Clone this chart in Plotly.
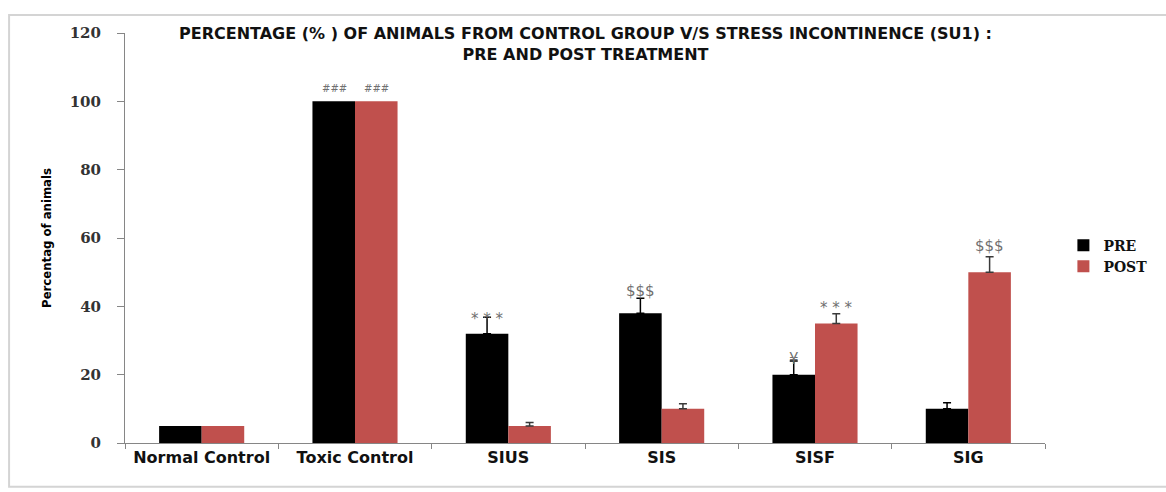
import plotly.graph_objects as go

categories = ["Normal Control", "Toxic Control", "SIUS", "SIS", "SISF", "SIG"]
pre_values = [5, 100, 32, 38, 20, 10]
post_values = [5, 100, 5, 10, 35, 50]
pre_errors = [0, 0, 4.8, 4.4, 4, 1.8]
post_errors = [0, 0, 1, 1.5, 2.8, 4.5]

ann_categories = ["Toxic Control", "Toxic Control", "SIUS", "SIS", "SISF", "SISF", "SIG"]
ann_series = ["PRE", "POST", "PRE", "PRE", "PRE", "POST", "POST"]
ann_texts = ["###", "###", "* * *", "$$$", "¥", "* * *", "$$$"]
ann_yshift = [13, 13, -2, 7, 2, 6, 11]
ann_size = [10, 10, 15, 15, 15, 15, 15]

title_lines = ["PERCENTAGE (% ) OF ANIMALS FROM CONTROL GROUP V/S STRESS INCONTINENCE (SU1) :",
               "PRE AND POST TREATMENT"]
y_title = "Percentag of animals"
y_ticks = [0, 20, 40, 60, 80, 100, 120]

PRE_COLOR = "#000000"
POST_COLOR = "#C0504D"

fig = go.Figure()


def add_series(name, values, errors, color, err_color):
    # bars with an error bar, and bars without one (zero error), in the same slot
    with_err = [i for i, e in enumerate(errors) if e > 0]
    no_err = [i for i, e in enumerate(errors) if e <= 0]
    fig.add_trace(go.Bar(
        name=name, x=[categories[i] for i in no_err], y=[values[i] for i in no_err],
        marker_color=color, marker_line_width=0, offsetgroup=name, legendgroup=name,
        showlegend=True,
    ))
    fig.add_trace(go.Bar(
        name=name, x=[categories[i] for i in with_err], y=[values[i] for i in with_err],
        marker_color=color, marker_line_width=0, offsetgroup=name, legendgroup=name,
        showlegend=False,
        error_y=dict(type="data", array=[errors[i] for i in with_err],
                     arrayminus=[0] * len(with_err), symmetric=False,
                     color=err_color, thickness=1.5, width=4),
    ))


add_series("PRE", pre_values, pre_errors, PRE_COLOR, "#000000")
add_series("POST", post_values, post_errors, POST_COLOR, "#3a3a3a")

lookup = {"PRE": (pre_values, pre_errors), "POST": (post_values, post_errors)}
for cat, ser, txt, ys, sz in zip(ann_categories, ann_series, ann_texts, ann_yshift, ann_size):
    vals, errs = lookup[ser]
    i = categories.index(cat)
    fig.add_annotation(
        x=cat, y=vals[i] + errs[i], xref="x", yref="y",
        text=txt, showarrow=False, yanchor="middle",
        xshift=-21 if ser == "PRE" else 21, yshift=ys,
        font=dict(family="DejaVu Sans, sans-serif", size=sz, color="#707070"),
    )

fig.add_annotation(
    x=0.5, y=1.0, xref="paper", yref="paper", xanchor="center", yanchor="top",
    text="<br>".join(title_lines), showarrow=False, yshift=11,
    font=dict(family="DejaVu Sans, sans-serif", size=16, color="#111111", weight="bold"),
    align="center",
)

# outer chart-area border
fig.add_shape(type="rect", xref="paper", yref="paper",
              x0=-0.126, x1=1.14, y0=-0.107, y1=1.044,
              line=dict(color="#d4d4d4", width=2), fillcolor="rgba(0,0,0,0)", layer="below")

fig.update_layout(
    width=1166, height=492,
    margin=dict(l=125, r=121, t=33, b=49),
    paper_bgcolor="white", plot_bgcolor="white",
    barmode="group", bargap=0.445, bargroupgap=0,
    showlegend=True,
    legend=dict(x=1.02, y=0.456, xanchor="left", yanchor="middle",
                font=dict(family="DejaVu Serif, serif", size=14, color="#111111", weight="bold"),
                tracegroupgap=9, itemwidth=30, traceorder="normal"),
    xaxis=dict(
        categoryorder="array", categoryarray=categories,
        showline=True, linecolor="#868686", linewidth=1, tickangle=0, automargin=False,
        ticks="outside", tickson="boundaries", ticklen=5, tickcolor="#868686",
        tickfont=dict(family="DejaVu Sans, sans-serif", size=16, color="#111111", weight="bold"),
        showgrid=False,
    ),
    yaxis=dict(
        range=[0, 120], tickvals=y_ticks, automargin=False,
        showline=True, linecolor="#868686", linewidth=1,
        ticks="outside", ticklen=7, tickcolor="#868686", ticklabelstandoff=13,
        tickfont=dict(family="DejaVu Serif, serif", size=15, color="#333333", weight="bold"),
        showgrid=False, zeroline=False,
        title=dict(text=y_title, standoff=15,
                   font=dict(family="Liberation Sans Narrow, DejaVu Sans Condensed, sans-serif", size=13, color="#000000", weight="bold")),
    ),
)

fig.write_html("out.html")
